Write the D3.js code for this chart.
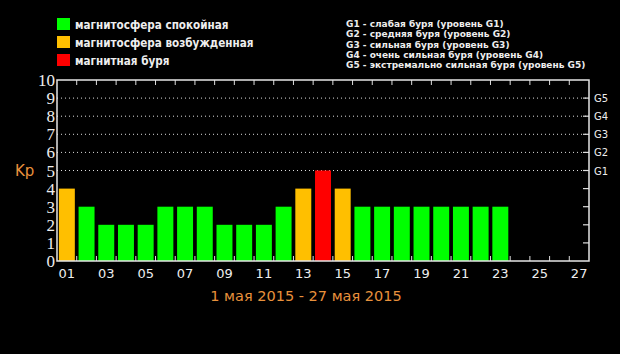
<!DOCTYPE html>
<html><head><meta charset="utf-8">
<script src="https://cdn.jsdelivr.net/npm/d3@7"></script>
<style>html,body{margin:0;padding:0;background:#000;}</style>
</head><body>
<svg id="c" width="620" height="354"></svg>
<script>
const days = d3.range(1, 28).map(d => String(d).padStart(2, "0"));
const kpValues = [4,3,2,2,2,3,3,3,2,2,2,3,4,5,4,3,3,3,3,3,3,3,3];
const yTicks = [0,1,2,3,4,5,6,7,8,9,10];
const gLabels = ["G1","G2","G3","G4","G5"];
const gLevels = [5,6,7,8,9];
const legendLeft = [
  {label:"магнитосфера спокойная", color:"#00ff00"},
  {label:"магнитосфера возбужденная", color:"#ffbf00"},
  {label:"магнитная буря", color:"#ff0000"}
];
const legendRight = [
  "G1 - слабая буря (уровень G1)",
  "G2 - средняя буря (уровень G2)",
  "G3 - сильная буря (уровень G3)",
  "G4 - очень сильная буря (уровень G4)",
  "G5 - экстремально сильная буря (уровень G5)"
];
const title = "1 мая 2015 - 27 мая 2015";

const svg = d3.select("#c");
svg.append("rect").attr("width",620).attr("height",354).attr("fill","#000");
const L=57, R=589, T=80, B=261;
const x = d3.scaleBand().domain(days).range([L,R]).paddingInner(0.19).paddingOuter(0.095);
const xb = d3.scaleBand().domain(days).range([L,R]);
const y = d3.scaleLinear().domain([0,10]).range([B,T]);
const color = v => v>=5 ? "#ff0000" : (v>=4 ? "#ffbf00" : "#00ff00");

// gridlines
svg.selectAll(".grid").data(gLevels).join("line")
  .attr("x1",L).attr("x2",R).attr("y1",d=>y(d)).attr("y2",d=>y(d))
  .attr("stroke","#ddd").attr("stroke-width",1).attr("stroke-dasharray","1,3");

// bars
svg.selectAll(".bar").data(kpValues).join("rect")
  .attr("x",(d,i)=>x(days[i])).attr("width",x.bandwidth())
  .attr("y",d=>y(d)).attr("height",d=>y(0)-y(d))
  .attr("fill",d=>color(d));

// band boundary ticks top & bottom
const inner = days.slice(1);
svg.selectAll(".tb").data(inner).join("line")
  .attr("x1",d=>xb(d)).attr("x2",d=>xb(d)).attr("y1",B).attr("y2",B-5)
  .attr("stroke","#ddd").attr("stroke-width",1);
svg.selectAll(".tt").data(inner).join("line")
  .attr("x1",d=>xb(d)).attr("x2",d=>xb(d)).attr("y1",T).attr("y2",T+5)
  .attr("stroke","#ddd").attr("stroke-width",1);
// right ticks
svg.selectAll(".rt").data(d3.range(1,10)).join("line")
  .attr("x1",R-6).attr("x2",R).attr("y1",d=>y(d)).attr("y2",d=>y(d))
  .attr("stroke","#ddd").attr("stroke-width",1.2);

// frame
svg.append("rect").attr("x",L).attr("y",T).attr("width",R-L).attr("height",B-T)
  .attr("fill","none").attr("stroke","#e6e6e6").attr("stroke-width",1.5);

// left labels
svg.selectAll(".yl").data(yTicks).join("text")
  .attr("x",55).attr("y",d=>y(d)+6).attr("text-anchor","end")
  .attr("font-family","Liberation Serif, serif").attr("font-size",17).attr("fill","#eee")
  .text(d=>d);
// right G labels
svg.selectAll(".gl").data(gLevels).join("text")
  .attr("x",594).attr("y",d=>y(d)+4).attr("font-family","DejaVu Sans, sans-serif")
  .attr("font-size",10).attr("fill","#eee").text((d,i)=>gLabels[i]);
// Kp
svg.append("text").attr("x",15).attr("y",176).attr("font-family","DejaVu Sans, sans-serif")
  .attr("font-size",15).attr("fill","#e8913c").text("Kp");
// x labels
svg.selectAll(".xl").data(days.filter((d,i)=>i%2===0)).join("text")
  .attr("x",d=>xb(d)+xb.bandwidth()/2).attr("y",278).attr("text-anchor","middle")
  .attr("font-family","DejaVu Sans, sans-serif").attr("font-size",13).attr("fill","#eee")
  .text(d=>d);
// title
svg.append("text").attr("x",306).attr("y",301).attr("text-anchor","middle")
  .attr("font-family","DejaVu Sans, sans-serif").attr("font-size",14.5).attr("fill","#e8913c")
  .text(title);

// legend left
const lg = svg.selectAll(".lg").data(legendLeft).join("g")
  .attr("transform",(d,i)=>`translate(57,${18+i*18})`);
lg.append("rect").attr("width",13).attr("height",12).attr("fill",d=>d.color);
lg.append("text").attr("x",18).attr("y",10.5).attr("font-family","DejaVu Sans Condensed, DejaVu Sans, sans-serif")
  .attr("font-stretch","condensed")
  .attr("font-size",11.6).attr("font-weight","bold").attr("fill","#eee").text(d=>d.label);
// legend right
svg.selectAll(".lr").data(legendRight).join("text")
  .attr("x",346).attr("y",(d,i)=>27+i*10.3).attr("font-family","DejaVu Sans, sans-serif")
  .attr("font-size",9).attr("font-weight","bold").attr("fill","#eee").text(d=>d);
</script>
</body></html>
